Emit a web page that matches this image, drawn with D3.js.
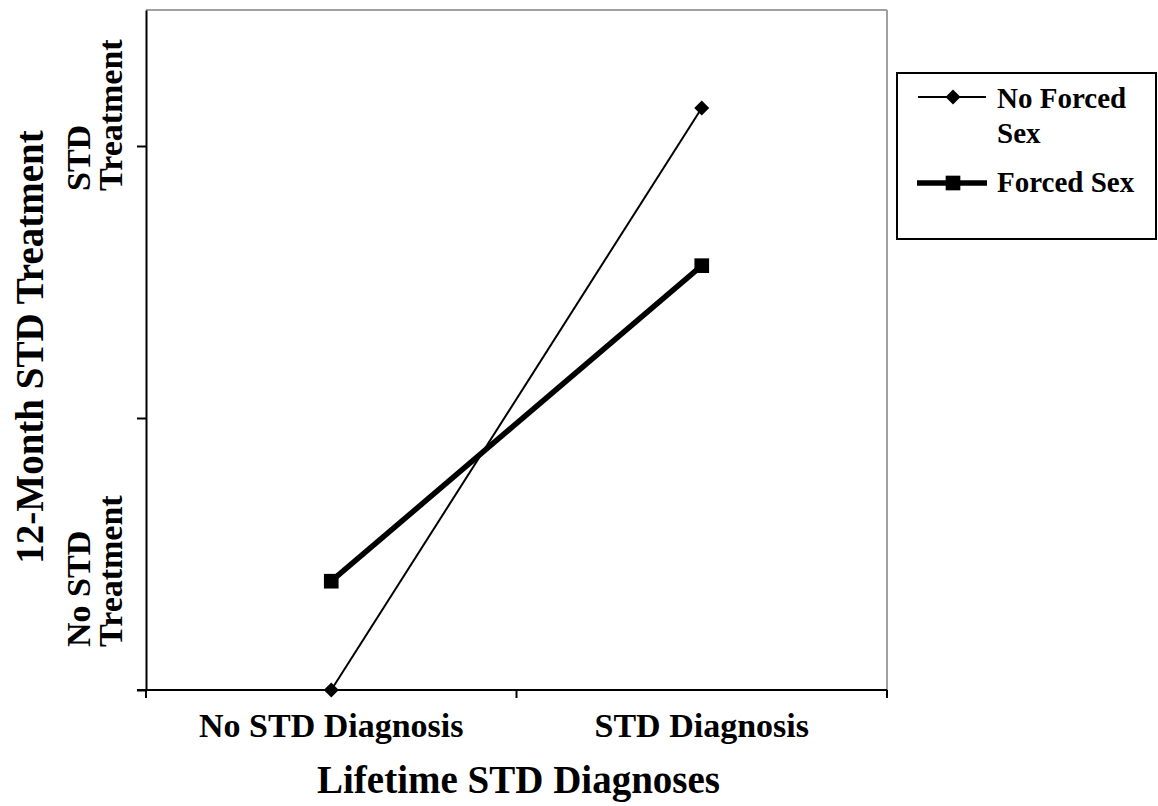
<!DOCTYPE html>
<html>
    <head>
        <script src="https://d3js.org/d3.v7.min.js"></script>
        <style>
            body { margin: 0; background: #fff; }
            text { font-family: "Liberation Serif", "Times New Roman", serif; font-weight: bold; fill: #000; }
        </style>
    </head>
    <body>
        <script>
            // data
            var categories = ["No STD Diagnosis", "STD Diagnosis"];
            var seriesNames = ["No Forced Sex", "Forced Sex"];
            var noForced = [0, 2.14];
            var forced = [0.40, 1.56];
            var yTickValues = [0, 1, 2];

            var margin = {top: 10, right: 271, bottom: 116, left: 146},
                width = 1158 - margin.left - margin.right,
                height = 806 - margin.top - margin.bottom;

            var svg = d3.select("body").append("svg")
                .attr("width", 1158)
                .attr("height", 806);

            var g = svg.append("g")
                .attr("transform", "translate(" + margin.left + "," + margin.top + ")");

            // scales
            var x = d3.scaleBand()
                .domain(categories)
                .range([0, width]);

            var y = d3.scaleLinear()
                .domain([0, 2.5])
                .range([height, 0]);

            // gray frame on top and right
            g.append("line")
                .attr("x1", 0).attr("y1", 0)
                .attr("x2", width).attr("y2", 0)
                .attr("stroke", "#a0a0a0").attr("stroke-width", 2);
            g.append("line")
                .attr("x1", width).attr("y1", 0)
                .attr("x2", width).attr("y2", height)
                .attr("stroke", "#a0a0a0").attr("stroke-width", 2);

            // y axis (ticks only, labels drawn separately)
            var yAxis = g.append("g")
                .call(d3.axisLeft(y).tickValues(yTickValues).tickSize(9).tickSizeOuter(0).tickFormat(""));
            yAxis.select(".domain").attr("stroke-width", 2);
            yAxis.selectAll(".tick line").attr("stroke-width", 2);

            // x axis ticks at band edges
            var xAxis = g.append("g")
                .attr("transform", "translate(0," + height + ")");
            xAxis.append("line")
                .attr("x1", -9).attr("x2", width)
                .attr("y1", 0).attr("y2", 0)
                .attr("stroke", "#000").attr("stroke-width", 2);
            var edges = [0].concat(categories.map(function(c){ return x(c) + x.bandwidth() }));
            xAxis.selectAll(".edge")
                .data(edges)
                .enter()
                .append("line")
                .attr("x1", function(d){ return d }).attr("x2", function(d){ return d })
                .attr("y1", 0).attr("y2", 8)
                .attr("stroke", "#000").attr("stroke-width", 2);

            // x category labels
            xAxis.selectAll(".cat")
                .data(categories)
                .enter()
                .append("text")
                .attr("x", function(d){ return x(d) + x.bandwidth() / 2 })
                .attr("y", 47)
                .attr("text-anchor", "middle")
                .attr("font-size", "34px")
                .text(function(d){ return d });

            // x title
            svg.append("text")
                .attr("x", margin.left + width / 2 + 2)
                .attr("y", 793)
                .attr("text-anchor", "middle")
                .attr("font-size", "39px")
                .text("Lifetime STD Diagnoses");

            // y title
            svg.append("text")
                .attr("transform", "translate(43,347) rotate(-90)")
                .attr("text-anchor", "middle")
                .attr("font-size", "39px")
                .text("12-Month STD Treatment");

            // y category labels (two lines, rotated)
            var yLabels = [
                {lines: ["No STD", "Treatment"], start: 647},
                {lines: ["STD", "Treatment"], start: 191}
            ];
            yLabels.forEach(function(l){
                var t = svg.append("text")
                    .attr("transform", "translate(90," + l.start + ") rotate(-90)")
                    .attr("font-size", "34px");
                t.selectAll("tspan")
                    .data(l.lines)
                    .enter()
                    .append("tspan")
                    .attr("x", 0)
                    .attr("dy", function(d, i){ return i == 0 ? 0 : 32 })
                    .text(function(d){ return d });
            });

            // lines
            var cx = function(i){ return x(categories[i]) + x.bandwidth() / 2 };
            var line = d3.line()
                .x(function(d, i){ return cx(i) })
                .y(function(d){ return y(d) });

            g.append("path")
                .datum(noForced)
                .attr("d", line)
                .attr("fill", "none")
                .attr("stroke", "#000")
                .attr("stroke-width", 2);

            g.append("path")
                .datum(forced)
                .attr("d", line)
                .attr("fill", "none")
                .attr("stroke", "#000")
                .attr("stroke-width", 5.5);

            // diamond with half-diagonal 7.5
            var diamondType = {
                draw: function(context, size) {
                    var r = Math.sqrt(size / 2);
                    context.moveTo(0, -r);
                    context.lineTo(r, 0);
                    context.lineTo(0, r);
                    context.lineTo(-r, 0);
                    context.closePath();
                }
            };
            var diamond = d3.symbol().type(diamondType).size(112);
            var square = d3.symbol().type(d3.symbolSquare).size(215);

            g.selectAll(".dia")
                .data(noForced)
                .enter()
                .append("path")
                .attr("d", diamond)
                .attr("transform", function(d, i){ return "translate(" + cx(i) + "," + y(d) + ")" })
                .attr("fill", "#000");

            g.selectAll(".sq")
                .data(forced)
                .enter()
                .append("path")
                .attr("d", square)
                .attr("transform", function(d, i){ return "translate(" + cx(i) + "," + y(d) + ")" })
                .attr("fill", "#000");

            // legend
            var legend = svg.append("g");
            legend.append("rect")
                .attr("x", 897).attr("y", 73)
                .attr("width", 259).attr("height", 166)
                .attr("fill", "#fff")
                .attr("stroke", "#000")
                .attr("stroke-width", 2);

            legend.append("line")
                .attr("x1", 918).attr("x2", 986)
                .attr("y1", 97).attr("y2", 97)
                .attr("stroke", "#000").attr("stroke-width", 2);
            legend.append("path")
                .attr("d", diamond)
                .attr("transform", "translate(953,97)");
            var t1 = legend.append("text")
                .attr("x", 997).attr("y", 108)
                .attr("font-size", "29px");
            t1.append("tspan").attr("x", 997).text("No Forced");
            t1.append("tspan").attr("x", 997).attr("dy", 35).text("Sex");

            legend.append("line")
                .attr("x1", 917).attr("x2", 987)
                .attr("y1", 183).attr("y2", 183)
                .attr("stroke", "#000").attr("stroke-width", 5.5);
            legend.append("path")
                .attr("d", square)
                .attr("transform", "translate(953,183)");
            legend.append("text")
                .attr("x", 997).attr("y", 192)
                .attr("font-size", "29px")
                .text(seriesNames[1]);
        </script>
    </body>
</html>
